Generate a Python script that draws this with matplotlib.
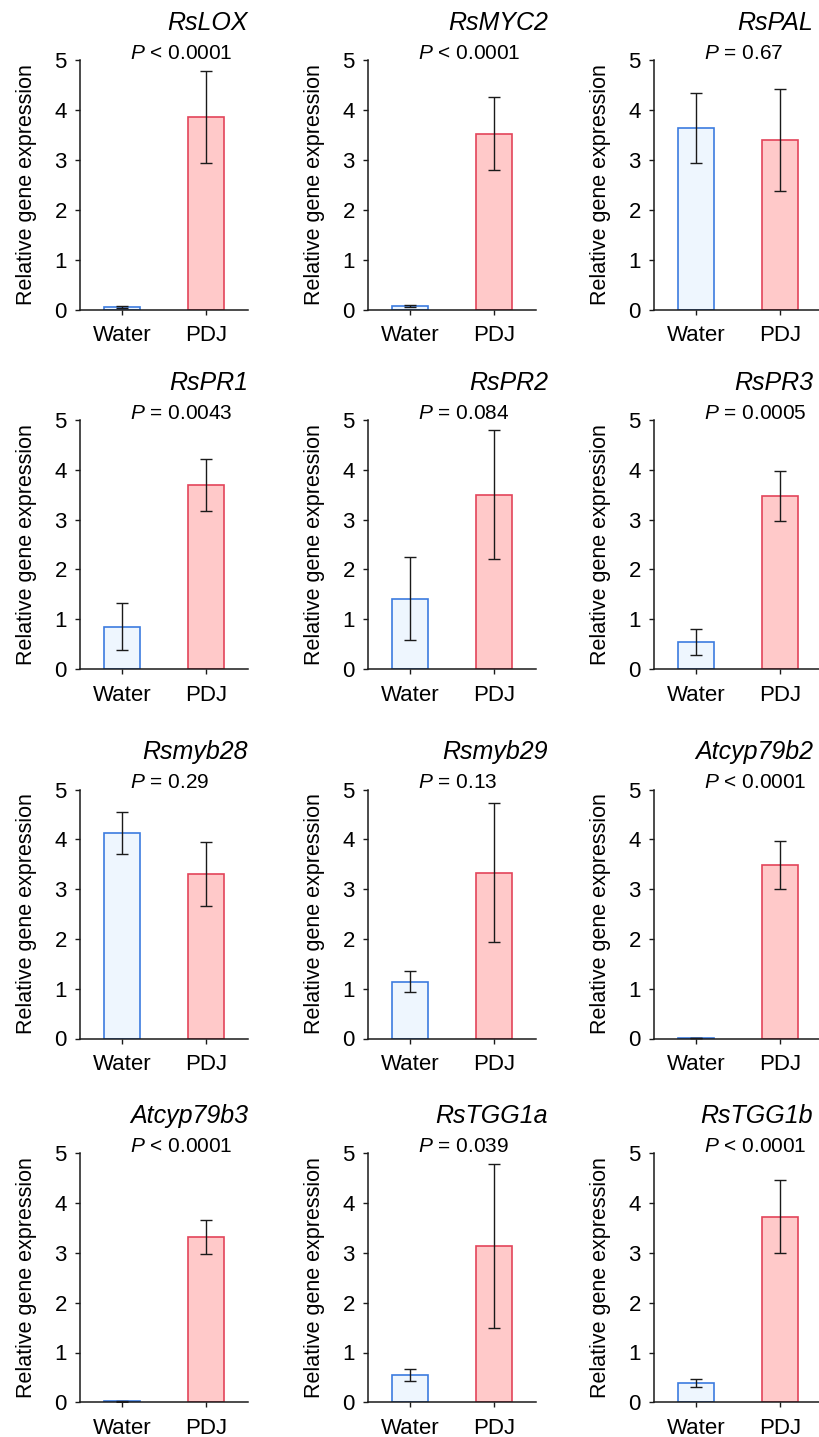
"""
Relative gene expression, Water vs PDJ, 12 genes
"""
import numpy as np
import matplotlib
matplotlib.use("Agg")
import matplotlib.pyplot as plt

plt.rcParams["font.family"] = ["Liberation Sans", "DejaVu Sans"]
plt.rcParams["mathtext.fontset"] = "custom"
plt.rcParams["mathtext.rm"] = "Liberation Sans"
plt.rcParams["mathtext.it"] = "Liberation Sans:italic"

genes = ["RsLOX", "RsMYC2", "RsPAL",
         "RsPR1", "RsPR2", "RsPR3",
         "Rsmyb28", "Rsmyb29", "Atcyp79b2",
         "Atcyp79b3", "RsTGG1a", "RsTGG1b"]
groups = ["Water", "PDJ"]
water_mean = [0.05, 0.07, 3.65, 0.85, 1.41, 0.55, 4.13, 1.14, 0.01, 0.02, 0.55, 0.39]
water_err = [0.02, 0.02, 0.70, 0.47, 0.83, 0.26, 0.42, 0.21, 0.005, 0.01, 0.12, 0.08]
pdj_mean = [3.87, 3.53, 3.40, 3.69, 3.50, 3.47, 3.31, 3.33, 3.49, 3.32, 3.14, 3.73]
pdj_err = [0.92, 0.73, 1.02, 0.52, 1.29, 0.50, 0.64, 1.40, 0.48, 0.35, 1.65, 0.73]
p_labels = ["< 0.0001", "< 0.0001", "= 0.67",
            "= 0.0043", "= 0.084", "= 0.0005",
            "= 0.29", "= 0.13", "< 0.0001",
            "< 0.0001", "= 0.039", "< 0.0001"]

W, H = 820, 1437
fig = plt.figure(figsize=(W / 100, H / 100), dpi=100)

# panel geometry in pixels
col_left = [80, 368, 654]
col_title_right = [248, 548, 813]
row_bottom = [309.5, 669, 1038.5, 1402.3]
ax_w, ax_h = 168, 249

fill = ["#EEF6FE", "#FFC9C9"]
edge = ["#3C7BDF", "#E3445A"]

for i, gene in enumerate(genes):
    r, c = divmod(i, 3)
    ax = fig.add_axes([col_left[c] / W, (H - row_bottom[r]) / H, ax_w / W, ax_h / H])
    x = np.arange(len(groups))
    means = [water_mean[i], pdj_mean[i]]
    errs = [water_err[i], pdj_err[i]]
    ax.bar(x, means, width=0.43, color=fill, edgecolor=edge, linewidth=1.2, zorder=2)
    ax.errorbar(x, means, yerr=errs, fmt="none", ecolor="#1a1a1a",
                elinewidth=1.0, capsize=4, capthick=1.0, zorder=3)

    ax.set_xlim(-0.5, 1.5)
    ax.set_ylim(0, 5)
    ax.set_xticks(x)
    ax.set_xticklabels(groups)
    ax.set_yticks(range(6))
    ax.tick_params(axis="both", labelsize=16, direction="out", length=3.5,
                   width=1.0, color="#1a1a1a")
    ax.tick_params(axis="x", pad=8)
    ax.tick_params(axis="y", pad=6)
    for side in ("top", "right"):
        ax.spines[side].set_visible(False)
    for side in ("left", "bottom"):
        ax.spines[side].set_linewidth(1.1)
        ax.spines[side].set_color("#1a1a1a")

    ax.set_ylabel("Relative gene expression", fontsize=15.5)
    ax.yaxis.set_label_coords(-0.255, 0.5)

    ax.text((col_title_right[c] - col_left[c]) / ax_w, 1 + 30 / ax_h, gene,
            transform=ax.transAxes, ha="right", va="baseline",
            fontsize=18, style="italic")
    ax.text(50 / ax_w, 1.005, "$P$ " + p_labels[i], transform=ax.transAxes,
            ha="left", va="baseline", fontsize=15)

fig.savefig("out.png", dpi=100)
